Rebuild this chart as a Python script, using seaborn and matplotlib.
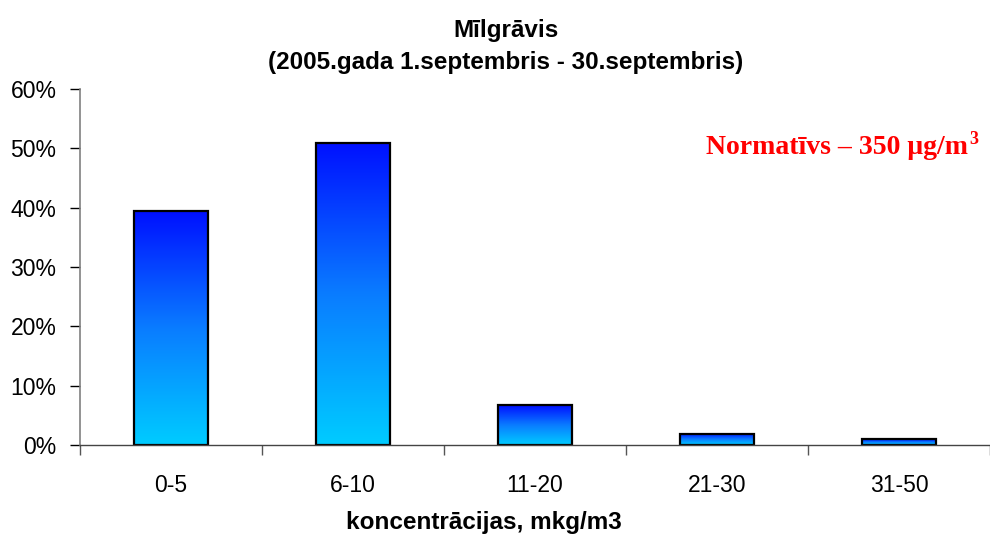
import numpy as np
import pandas as pd
import matplotlib
matplotlib.use('Agg')
import matplotlib.pyplot as plt
import seaborn as sns
from matplotlib.colors import LinearSegmentedColormap
from matplotlib.ticker import PercentFormatter, FixedLocator

sns.set_style('white')
plt.rcParams['font.family'] = ['Liberation Sans', 'DejaVu Sans']
plt.rcParams['text.color'] = 'black'
plt.rcParams['xtick.labelcolor'] = 'black'
plt.rcParams['ytick.labelcolor'] = 'black'

# data
categories = ['0-5', '6-10', '11-20', '21-30', '31-50']
shares = [0.394, 0.509, 0.067, 0.019, 0.010]

df = pd.DataFrame({'kategorija': categories, 'dala': shares})

fig = plt.figure(figsize=(9.9, 5.35), dpi=100)
ax = fig.add_axes([80/990, 1 - 445/535, 910/990, 356/535])

sns.barplot(data=df, x='kategorija', y='dala', ax=ax, width=0.41,
            color='white', edgecolor='black', linewidth=1.6, saturation=1)

# gradient fill, dark blue on top -> cyan at the bottom, per bar
cmap = LinearSegmentedColormap.from_list('grad', ['#00ccff', '#0a7cff', '#0010ff'])
grad = np.linspace(0, 1, 256).reshape(-1, 1)
for p in ax.patches:
    x0, y0 = p.get_x(), p.get_y()
    w, h = p.get_width(), p.get_height()
    im = ax.imshow(grad, cmap=cmap, aspect='auto', origin='lower',
                   extent=[x0, x0 + w, y0, y0 + h], zorder=p.get_zorder() - 0.1)
    im.set_clip_path(p)
    p.set_facecolor('none')

ax.set_xlim(-0.5, 4.5)
ax.set_ylim(0, 0.6)
ax.yaxis.set_major_formatter(PercentFormatter(1.0, decimals=0))
ax.set_yticks(np.arange(0, 0.61, 0.1))

ax.tick_params(axis='x', which='major', length=0, pad=21, labelsize=16.5)
ax.xaxis.set_minor_locator(FixedLocator(np.arange(-0.5, 4.6, 1.0)))
ax.tick_params(axis='x', which='minor', bottom=True, direction='out', length=7, width=1, color='#555555')
ax.tick_params(axis='y', left=True, direction='out', length=7, width=1, labelsize=16.5, pad=10,
               color='black')

for s in ['top', 'right']:
    ax.spines[s].set_visible(False)
ax.spines['left'].set_color('#808080')
ax.spines['left'].set_linewidth(1.2)
ax.spines['bottom'].set_color('#444444')
ax.spines['bottom'].set_linewidth(1.0)

ax.set_xlabel('')
ax.set_ylabel('')

fig.text(506/990, 1 - 30/535, 'Mīlgrāvis', ha='center', va='center',
         fontsize=17.5, fontweight='bold')
fig.text(506/990, 1 - 62/535, '(2005.gada 1.septembris - 30.septembris)',
         ha='center', va='center', fontsize=17.5, fontweight='bold')
fig.text(484/990, 1 - 522/535, 'koncentrācijas, mkg/m3', ha='center', va='center',
         fontsize=17.5, fontweight='bold')

# red note with a raised "3"
serif = ['Liberation Serif', 'DejaVu Serif']
norm = fig.text(968/990, 1 - 148/535, 'Normatīvs – 350 μg/m', ha='right', va='center',
                fontsize=20, fontweight='bold', color='#ff0000', family=serif)
ax.annotate('3', xy=(1, 1), xycoords=norm, xytext=(1, 3), textcoords='offset points',
            ha='left', va='top', fontsize=13, fontweight='bold', color='#ff0000',
            family=serif, annotation_clip=False)

fig.savefig('out.png', dpi=100)
